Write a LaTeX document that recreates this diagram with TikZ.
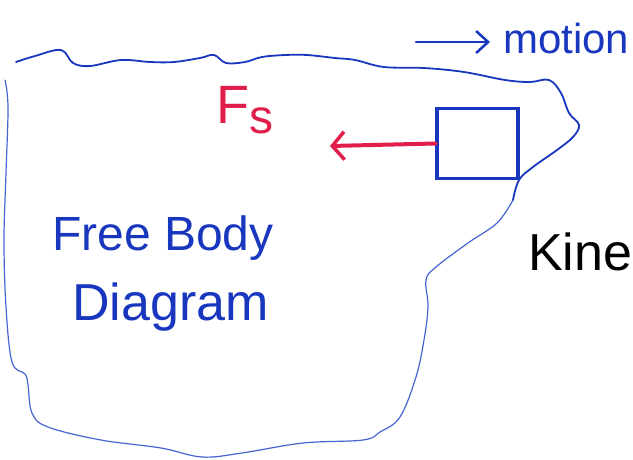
\documentclass[tikz,border=0pt]{standalone}
\usepackage{fontspec}
\setmainfont{Liberation Sans}
\usetikzlibrary{arrows.meta}
\definecolor{penblue}{RGB}{25,55,190}
\definecolor{lightblue}{RGB}{70,100,210}
\definecolor{penred}{RGB}{225,30,75}
\tikzset{
  outlinedark/.style={draw=penblue, line width=1.8pt, line cap=round, line join=round},
  outlinelight/.style={draw=lightblue, line width=1.2pt, line cap=round, line join=round},
  bodybox/.style={draw=penblue, line width=3.2pt, minimum width=81pt, minimum height=70pt, inner sep=0pt},
  forcearrow/.style={draw=penred, line width=4pt, line cap=round, -{Straight Barb[length=12pt,width=28pt,line width=3.5pt]}},
  motionarrow/.style={draw=penblue, line width=2.5pt, line cap=round, -{Straight Barb[length=12pt,width=22pt,line width=2.5pt]}},
  handtext/.style={inner sep=0pt, anchor=base west}
}
\begin{document}
\begin{tikzpicture}[x=1pt,y=-1pt]
\useasboundingbox (0,0) rectangle (633,459);
\clip (0,0) rectangle (633,459);
% outline of the body region
\draw[outlinedark] plot[smooth, tension=0.6] coordinates {(16,62) (35,56) (61,50) (73,63) (90,66) (121,60) (150,62) (174,62) (200,58) (214,55) (226,63) (245,62) (262,57) (285,55) (307,55) (335,58) (355,60) (384,67) (424,68) (464,72) (505,80) (530,82) (549,80) (561,93) (569,113) (579,125) (573,137) (557,150) (533,167) (519,180) (513,200)};
\draw[outlinelight] plot[smooth, tension=0.6] coordinates {(513,200) (497,223) (468,243) (436,267) (426,280) (428,307) (424,340) (416,377) (400,417) (380,432) (363,440) (303,443) (242,453) (202,457) (161,448) (101,440) (48,427) (32,413) (28,385) (25,374) (12,362) (6,307) (4,240) (6,173) (8,107) (5,80)};
% block
\node[bodybox] (box) at (477.5,143.5) {};
% friction force
\coordinate (fsend) at (330,146);
\draw[forcearrow] (box.west) -- (fsend);
\node[handtext, text=penred, font=\fontsize{54}{54}\selectfont] (fs) at (216,123) {F\fontsize{48}{48}\selectfont\raisebox{-10pt}{s}};
% motion
\node[handtext, text=penblue, font=\fontsize{42}{42}\selectfont] (motion) at (503,53) {motion};
\coordinate (mstart) at (416,42);
\coordinate (mend) at (490,42);
\draw[motionarrow] (mstart) -- (mend);
% labels
\node[handtext, text=penblue, font=\fontsize{48}{48}\selectfont] (fbd1) at (52,250) {Free Body};
\node[handtext, text=penblue, font=\fontsize{52}{52}\selectfont] (fbd2) at (72,320) {Diagram};
\node[handtext, text=black, font=\fontsize{52}{52}\selectfont] (kine) at (528,270) {Kine};
\end{tikzpicture}
\end{document}
